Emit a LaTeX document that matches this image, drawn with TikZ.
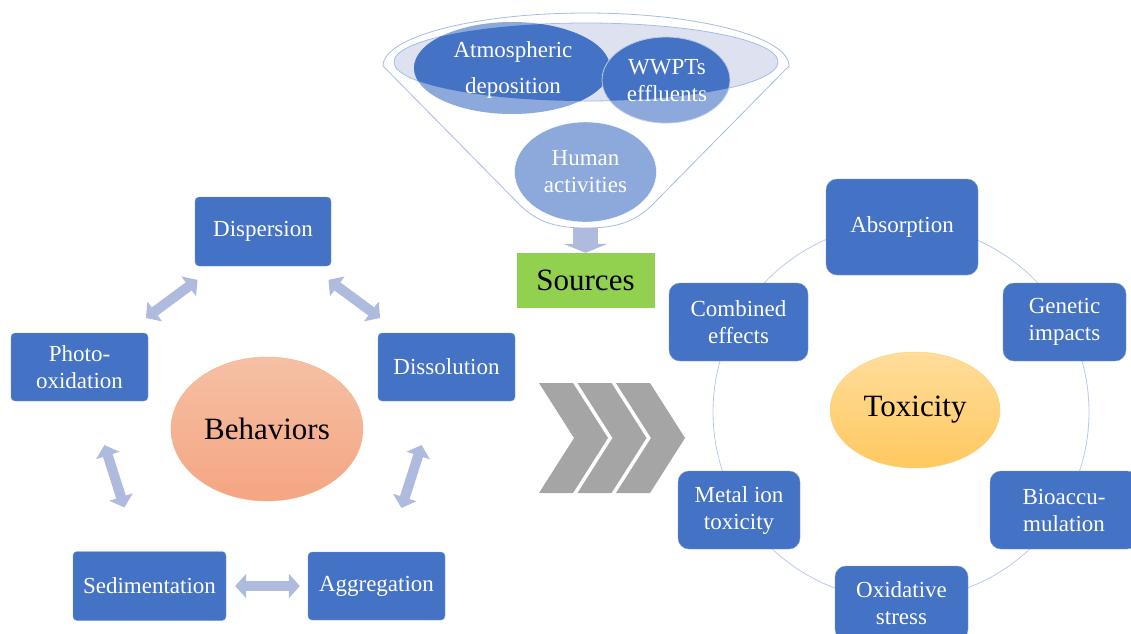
\documentclass[tikz,border=0pt]{standalone}
\usepackage{fontspec}
\setmainfont{Liberation Serif}
\usepackage{xcolor}
\definecolor{boxblue}{RGB}{68,114,196}
\definecolor{boxedge}{RGB}{120,155,215}
\definecolor{arrowlav}{RGB}{174,187,222}
\definecolor{srcdark}{RGB}{68,114,196}
\definecolor{srclight}{RGB}{141,168,219}
\definecolor{rimfill}{RGB}{222,226,240}
\definecolor{rimline}{RGB}{165,188,230}
\definecolor{srcgreen}{RGB}{146,208,80}
\definecolor{chevgray}{RGB}{165,165,165}
\definecolor{behtop}{RGB}{245,192,165}
\definecolor{behbot}{RGB}{245,165,130}
\definecolor{behedge}{RGB}{244,177,131}
\definecolor{toxtop}{RGB}{255,221,155}
\definecolor{toxbot}{RGB}{255,200,95}
\definecolor{toxedge}{RGB}{255,205,120}
\definecolor{ringline}{RGB}{185,202,235}
\usepackage{tikz}
\usetikzlibrary{positioning,arrows.meta,shapes.geometric}
\tikzset{
  stepbox/.style ={rectangle,rounded corners=4pt,draw=boxedge,fill=boxblue,text=white,
                   align=center,inner sep=2pt,font=\fontsize{23}{27}\selectfont},
  toxbox/.style  ={stepbox,rounded corners=11pt},
  hub/.style     ={ellipse,draw,align=center,inner sep=0pt,font=\fontsize{31}{36}\selectfont},
  srctext/.style ={align=center,text=white,inner sep=0pt,font=\fontsize{23}{27}\selectfont},
  twoway/.style  ={{Triangle[width=24pt,length=11pt]}-{Triangle[width=24pt,length=11pt]},
                   line width=10pt,draw=arrowlav},
  feed/.style    ={-{Triangle[width=44pt,length=9pt]},line width=25pt,draw=arrowlav},
}

\begin{document}
\begin{tikzpicture}[x=1pt,y=-1pt]
  \useasboundingbox (0,0) rectangle (1131,633);
  \clip (0,0) rectangle (1131,633);

  % funnel of sources
  \draw[rimline,fill=white,line width=0.8pt]
    (383,66) .. controls (383,37) and (474,13) .. (586,13)
    .. controls (698,13) and (789,37) .. (789,66) -- (657,200)
    .. controls (637,222) and (617,228) .. (586,228)
    .. controls (555,228) and (535,222) .. (515,200) -- cycle;
  \draw[rimline,fill=rimfill,line width=0.8pt] (586,62) ellipse [x radius=192pt,y radius=39pt];
  \fill[srclight] (512,68) ellipse [x radius=98pt,y radius=46pt];
  \begin{scope}
    \clip (586,62) ellipse [x radius=192pt,y radius=39pt];
    \fill[srcdark] (512,68) ellipse [x radius=98pt,y radius=46pt];
  \end{scope}
  \fill[srclight] (666,80) ellipse [x radius=64pt,y radius=43pt];
  \begin{scope}
    \clip (586,62) ellipse [x radius=192pt,y radius=39pt];
    \fill[srcdark] (666,80) ellipse [x radius=64pt,y radius=43pt];
  \end{scope}
  \draw[srclight!60!white,line width=0.8pt] (666,80) ellipse [x radius=64pt,y radius=43pt];
  \node[srctext] (atmo) at (513,70) {Atmospheric\\[9pt]deposition};
  \node[srctext] (wwpt) at (667,81) {WWPTs\\effluents};
  \node[srctext,ellipse,fill=srclight,draw=white,minimum width=142pt,minimum height=100pt]
    (human) at (585.5,172) {Human\\activities};
  \node[rectangle,fill=srcgreen,minimum width=138pt,minimum height=55pt,
    font=\fontsize{31}{36}\selectfont] (src) at (585.5,280.5) {Sources};
  \draw[feed,shorten <=6pt] (human.south) -- (src.north);

  % behaviors cycle
  \node[hub,draw=behedge,top color=behtop,bottom color=behbot,
    minimum width=192pt,minimum height=144pt] (beh) at (267,429) {Behaviors};
  \node[stepbox,minimum width=136pt,minimum height=69pt] (disp)   at (263,231.5) {Dispersion};
  \node[stepbox,minimum width=137pt,minimum height=68pt] (photo)  at (79.5,367)   {Photo-\\oxidation};
  \node[stepbox,minimum width=137pt,minimum height=68pt] (dissol) at (446.5,367)  {Dissolution};
  \node[stepbox,minimum width=153pt,minimum height=69pt] (sedim)  at (149.5,586)  {Sedimentation};
  \node[stepbox,minimum width=137pt,minimum height=68pt] (aggr)   at (376.5,586)  {Aggregation};
  \draw[twoway,shorten <=23pt,shorten >=25pt] (disp) -- (photo);
  \draw[twoway,shorten <=23pt,shorten >=25pt] (disp) -- (dissol);
  \draw[twoway,shorten <=46pt,shorten >=46pt] (photo) -- (sedim);
  \draw[twoway,shorten <=46pt,shorten >=46pt] (dissol) -- (aggr);
  \draw[twoway,shorten <=9pt,shorten >=8pt] (sedim) -- (aggr);

  % chevrons
  \foreach \cx in {539,577.5,616}
    \fill[chevgray] (\cx,383) -- ++(34,0) -- ++(35,55) -- ++(-35,55) -- ++(-34,0) -- ++(35,-55) -- cycle;

  % toxicity ring
  \coordinate (ringc) at (901,412);
  \draw[ringline,line width=0.8pt] (ringc) circle (188pt);
  \node[hub,draw=toxedge,top color=toxtop,bottom color=toxbot,
    minimum width=170pt,minimum height=116pt] (tox) at (915,410) {Toxicity};
  \node[toxbox,minimum width=152pt,minimum height=96pt] (absorp)   at (902,227)    {Absorption};
  \node[toxbox,minimum width=139pt,minimum height=78pt] (combined) at (738.5,322)  {Combined\\effects};
  \node[toxbox,minimum width=123pt,minimum height=78pt] (genetic)  at (1064.5,322) {Genetic\\impacts};
  \node[toxbox,minimum width=122pt,minimum height=78pt] (metal)    at (739,510)    {Metal ion\\toxicity};
  \node[toxbox,minimum width=148pt,minimum height=78pt] (bioacc)   at (1064,510)   {Bioaccu-\\mulation};
  \node[toxbox,minimum width=133pt,minimum height=74pt] (oxid)     at (901.5,603)  {Oxidative\\stress};
\end{tikzpicture}
\end{document}
